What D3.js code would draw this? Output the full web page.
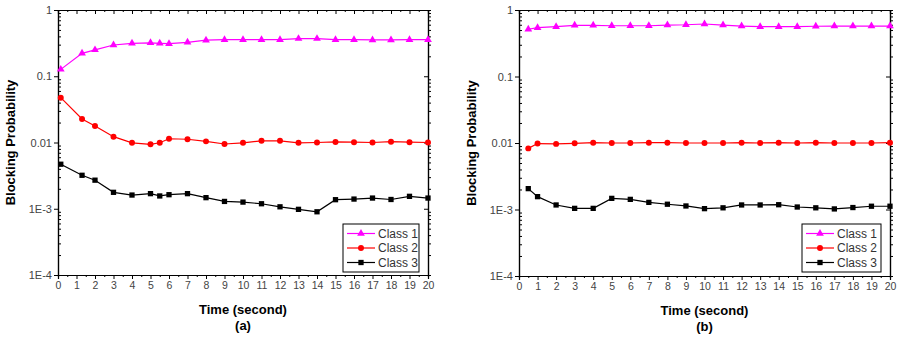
<!DOCTYPE html>
<html>
<head>
<meta charset="utf-8">
<script src="https://cdn.jsdelivr.net/npm/d3@7"></script>
<style>
  body { margin: 0; background: #fff; }
  svg { display: block; font-family: "Liberation Sans", Arial, sans-serif; }
</style>
</head>
<body>
<svg id="chart" width="901" height="338"></svg>
<script>
// panel (a)
const timeA = [0.15, 1.3, 2, 3, 4, 5, 5.5, 6, 7, 8, 9, 10, 11, 12, 13, 14, 15, 16, 17, 18, 19, 20];
const class1A = [0.127, 0.222, 0.25, 0.296, 0.314, 0.32, 0.314, 0.31, 0.325, 0.35, 0.356, 0.356, 0.356, 0.356, 0.37, 0.37, 0.356, 0.356, 0.353, 0.353, 0.356, 0.356];
const class2A = [0.0475, 0.0226, 0.0178, 0.01225, 0.0099, 0.0094, 0.0099, 0.0114, 0.0112, 0.0104, 0.0095, 0.0099, 0.0106, 0.0106, 0.0099, 0.0100, 0.0102, 0.0101, 0.0100, 0.0103, 0.0101, 0.0100];
const class3A = [0.0047, 0.0032, 0.0027, 0.00177, 0.00161, 0.00169, 0.00156, 0.00163, 0.00169, 0.00147, 0.00129, 0.00126, 0.00119, 0.00107, 0.00098, 0.0009, 0.00137, 0.0014, 0.00145, 0.00138, 0.00154, 0.00145];

// panel (b)
const timeB = [0.5, 1, 2, 3, 4, 5, 6, 7, 8, 9, 10, 11, 12, 13, 14, 15, 16, 17, 18, 19, 20];
const class1B = [0.513, 0.542, 0.562, 0.589, 0.589, 0.58, 0.58, 0.58, 0.594, 0.6, 0.616, 0.594, 0.574, 0.562, 0.562, 0.562, 0.57, 0.574, 0.574, 0.574, 0.574];
const class2B = [0.0083, 0.0098, 0.0097, 0.0099, 0.0101, 0.0100, 0.0100, 0.0101, 0.0101, 0.0100, 0.0100, 0.0100, 0.0101, 0.0100, 0.0101, 0.0100, 0.0101, 0.0100, 0.0100, 0.0100, 0.0101];
const class3B = [0.00206, 0.00156, 0.00117, 0.00104, 0.00104, 0.00147, 0.00142, 0.00128, 0.0012, 0.00113, 0.00103, 0.00106, 0.00117, 0.00117, 0.00118, 0.00109, 0.00106, 0.00102, 0.00107, 0.00112, 0.00112];

const seriesNames = ["Class 1", "Class 2", "Class 3"];
const xTicks = d3.range(0, 21);
const yTicks = [1e-4, 1e-3, 0.01, 0.1, 1];
const yTickLabels = ["1E-4", "1E-3", "0.01", "0.1", "1"];
const xTitle = "Time (second)";
const yTitle = "Blocking Probability";

const colors = ["#ff00ff", "#ff0000", "#000000"];
const symbols = [d3.symbolTriangle, d3.symbolCircle, d3.symbolSquare];
const symbolSizes = [26, 28, 28];

const svg = d3.select("#chart");

function drawPanel(box, time, series, caption) {
    const x = d3.scaleLinear().domain([0, 20]).range([box.left, box.right]);
    const y = d3.scaleLog().domain([1e-4, 1]).range([box.bottom, box.top]);
    const g = svg.append("g");

    const yMinor = [];
    for (let d = -4; d < 0; d++)
        for (let k = 2; k <= 9; k++) yMinor.push(k * Math.pow(10, d));
    const xMinor = d3.range(0.5, 20, 1);

    const fmt = d => yTickLabels[yTicks.indexOf(d)];

    // left axis: major out, minor in
    g.append("g").attr("transform", `translate(${box.left},0)`)
        .call(d3.axisLeft(y).tickValues(yMinor).tickSize(-3).tickFormat(""));
    g.append("g").attr("class", "ylab").attr("transform", `translate(${box.left},0)`)
        .call(d3.axisLeft(y).tickValues(yTicks).tickSize(4).tickPadding(2).tickFormat(fmt));
    // right axis: major in, minor out
    g.append("g").attr("transform", `translate(${box.right},0)`)
        .call(d3.axisRight(y).tickValues(yMinor).tickSize(3).tickFormat(""));
    g.append("g").attr("transform", `translate(${box.right},0)`)
        .call(d3.axisRight(y).tickValues(yTicks).tickSize(-4).tickFormat(""));
    // bottom axis
    g.append("g").attr("transform", `translate(0,${box.bottom})`)
        .call(d3.axisBottom(x).tickValues(xMinor).tickSize(2).tickFormat(""));
    g.append("g").attr("class", "xlab").attr("transform", `translate(0,${box.bottom})`)
        .call(d3.axisBottom(x).tickValues(xTicks).tickSize(4).tickPadding(3).tickFormat(d3.format("d")));
    // top axis
    g.append("g").attr("transform", `translate(0,${box.top})`)
        .call(d3.axisTop(x).tickValues(xMinor).tickSize(-2).tickFormat(""));
    g.append("g").attr("transform", `translate(0,${box.top})`)
        .call(d3.axisTop(x).tickValues(xTicks).tickSize(-4).tickFormat(""));

    g.selectAll(".domain").attr("stroke", "#000").attr("stroke-width", 1.2);
    g.selectAll(".tick line").attr("stroke", "#000");
    g.selectAll(".tick text").attr("fill", "#444").attr("font-family", "Liberation Sans, Arial, sans-serif");
    g.selectAll(".ylab .tick text").attr("font-size", 11);
    g.selectAll(".xlab .tick text").attr("font-size", 10.5);

    // titles
    g.append("text")
        .attr("transform", `translate(${box.left - 43},${(box.top + box.bottom) / 2}) rotate(-90)`)
        .attr("text-anchor", "middle").attr("font-weight", "bold").attr("font-size", 13)
        .text(yTitle);
    g.append("text")
        .attr("x", (box.left + box.right) / 2).attr("y", box.bottom + 39)
        .attr("text-anchor", "middle").attr("font-weight", "bold").attr("font-size", 13)
        .text(xTitle);
    g.append("text")
        .attr("x", (box.left + box.right) / 2).attr("y", box.bottom + 55)
        .attr("text-anchor", "middle").attr("font-weight", "bold").attr("font-size", 13)
        .text(caption);

    // series
    const line = d3.line().x((d, i) => x(time[i])).y(d => y(d));
    series.forEach((vals, s) => {
        g.append("path").datum(vals)
            .attr("d", line).attr("fill", "none")
            .attr("stroke", colors[s]).attr("stroke-width", 1.2);
        g.selectAll(null).data(vals).enter().append("path")
            .attr("transform", (d, i) => `translate(${x(time[i])},${y(d)})`)
            .attr("d", d3.symbol(symbols[s], symbolSizes[s]))
            .attr("fill", colors[s]);
    });

    // legend
    const lg = g.append("g").attr("transform", `translate(${box.right - box.legendW - 9},224)`);
    lg.append("rect").attr("width", box.legendW).attr("height", 48)
        .attr("fill", "#fff").attr("stroke", "#000").attr("stroke-width", 1);
    seriesNames.forEach((name, s) => {
        const yy = 9.5 + s * 14.5;
        lg.append("line").attr("x1", 4).attr("x2", 32).attr("y1", yy).attr("y2", yy)
            .attr("stroke", colors[s]).attr("stroke-width", 1.2);
        lg.append("path").attr("transform", `translate(18,${yy})`)
            .attr("d", d3.symbol(symbols[s], symbolSizes[s])).attr("fill", colors[s]);
        lg.append("text").attr("x", 35).attr("y", yy + 4)
            .attr("font-size", 12).attr("fill", "#333").text(name);
    });
}

drawPanel({ left: 58, right: 428, top: 10, bottom: 275, legendW: 76 }, timeA, [class1A, class2A, class3A], "(a)");
drawPanel({ left: 519, right: 890, top: 10, bottom: 276, legendW: 79 }, timeB, [class1B, class2B, class3B], "(b)");
</script>
</body>
</html>
